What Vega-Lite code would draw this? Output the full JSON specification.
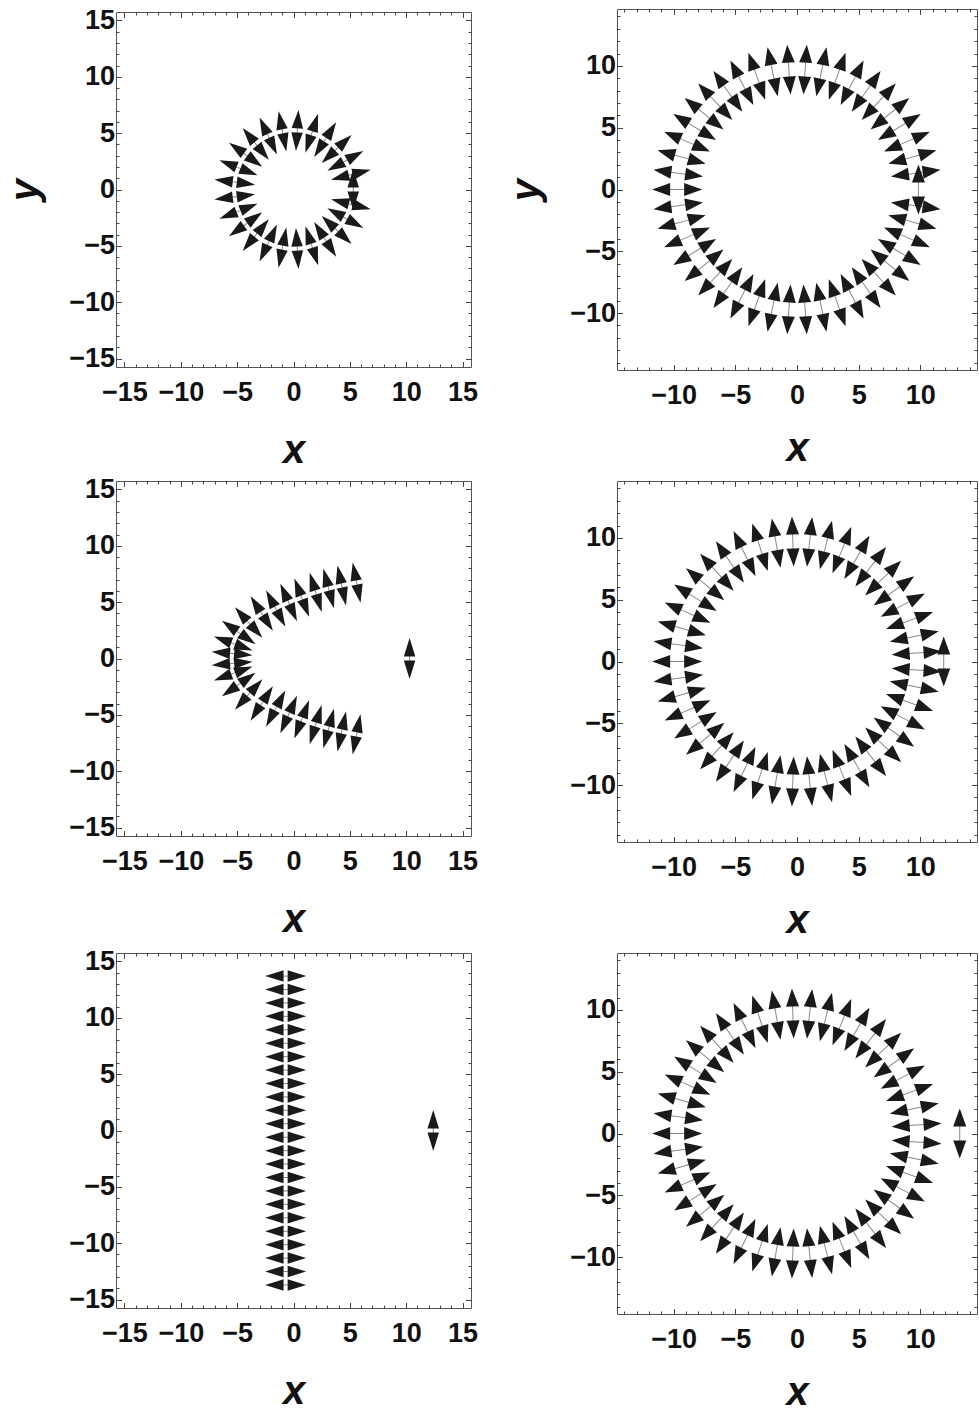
{
  "$schema": "https://vega.github.io/schema/vega-lite/v6.json",
  "padding": {"left": 5, "top": 1, "right": 0, "bottom": 0},
  "background": "white",
  "config": {
    "font": "Liberation Sans",
    "view": {"stroke": "#555", "strokeWidth": 1},
    "axis": {
      "domain": false,
      "grid": false,
      "tickColor": "#444",
      "tickWidth": 1,
      "labelFlush": false,
      "labelOverlap": false,
      "titleFont": "Liberation Sans",
      "titleFontSize": 40,
      "titleFontWeight": "bold",
      "titleFontStyle": "italic",
      "titleColor": "#111"
    }
  },
  "datasets": {
    "arrows": [
      {"p":1,"x":5.3,"y":0,"a":0},
      {"p":1,"x":5.09,"y":1.31,"a":75.6},{"p":1,"x":4.6,"y":2.53,"a":61.2},{"p":1,"x":3.83,"y":3.59,"a":46.8},{"p":1,"x":2.81,"y":4.43,"a":32.4},{"p":1,"x":1.62,"y":4.99,"a":18},{"p":1,"x":0.33,"y":5.24,"a":3.6},
      {"p":1,"x":-0.98,"y":5.16,"a":-10.8},{"p":1,"x":-2.24,"y":4.75,"a":-25.2},{"p":1,"x":-3.35,"y":4.05,"a":-39.6},{"p":1,"x":-4.25,"y":3.09,"a":-54},{"p":1,"x":-4.88,"y":1.93,"a":-68.4},{"p":1,"x":-5.21,"y":0.66,"a":-82.8},
      {"p":1,"x":-5.21,"y":-0.66,"a":82.8},{"p":1,"x":-4.88,"y":-1.93,"a":68.4},{"p":1,"x":-4.25,"y":-3.09,"a":54},{"p":1,"x":-3.35,"y":-4.05,"a":39.6},{"p":1,"x":-2.24,"y":-4.75,"a":25.2},{"p":1,"x":-0.98,"y":-5.16,"a":10.8},
      {"p":1,"x":0.33,"y":-5.24,"a":-3.6},{"p":1,"x":1.62,"y":-4.99,"a":-18},{"p":1,"x":2.81,"y":-4.43,"a":-32.4},{"p":1,"x":3.83,"y":-3.59,"a":-46.8},{"p":1,"x":4.6,"y":-2.53,"a":-61.2},{"p":1,"x":5.09,"y":-1.31,"a":-75.6},

      {"p":2,"x":9.85,"y":0,"a":0},
      {"p":2,"x":9.63,"y":1.32,"a":82.2},{"p":2,"x":9.36,"y":2.62,"a":74.3},{"p":2,"x":8.92,"y":3.87,"a":66.5},{"p":2,"x":8.3,"y":5.05,"a":58.7},{"p":2,"x":7.54,"y":6.13,"a":50.9},{"p":2,"x":6.63,"y":7.1,"a":43},
      {"p":2,"x":5.61,"y":7.94,"a":35.2},{"p":2,"x":4.47,"y":8.63,"a":27.4},{"p":2,"x":3.26,"y":9.16,"a":19.6},{"p":2,"x":1.98,"y":9.52,"a":11.7},{"p":2,"x":0.66,"y":9.7,"a":3.9},{"p":2,"x":-0.66,"y":9.7,"a":-3.9},
      {"p":2,"x":-1.98,"y":9.52,"a":-11.7},{"p":2,"x":-3.26,"y":9.16,"a":-19.6},{"p":2,"x":-4.47,"y":8.63,"a":-27.4},{"p":2,"x":-5.61,"y":7.94,"a":-35.2},{"p":2,"x":-6.63,"y":7.1,"a":-43},{"p":2,"x":-7.54,"y":6.13,"a":-50.9},
      {"p":2,"x":-8.3,"y":5.05,"a":-58.7},{"p":2,"x":-8.92,"y":3.87,"a":-66.5},{"p":2,"x":-9.36,"y":2.62,"a":-74.3},{"p":2,"x":-9.63,"y":1.32,"a":-82.2},{"p":2,"x":-9.72,"y":0,"a":90},
      {"p":2,"x":-9.63,"y":-1.32,"a":82.2},{"p":2,"x":-9.36,"y":-2.62,"a":74.3},{"p":2,"x":-8.92,"y":-3.87,"a":66.5},{"p":2,"x":-8.3,"y":-5.05,"a":58.7},{"p":2,"x":-7.54,"y":-6.13,"a":50.9},{"p":2,"x":-6.63,"y":-7.1,"a":43},
      {"p":2,"x":-5.61,"y":-7.94,"a":35.2},{"p":2,"x":-4.47,"y":-8.63,"a":27.4},{"p":2,"x":-3.26,"y":-9.16,"a":19.6},{"p":2,"x":-1.98,"y":-9.52,"a":11.7},{"p":2,"x":-0.66,"y":-9.7,"a":3.9},{"p":2,"x":0.66,"y":-9.7,"a":-3.9},
      {"p":2,"x":1.98,"y":-9.52,"a":-11.7},{"p":2,"x":3.26,"y":-9.16,"a":-19.6},{"p":2,"x":4.47,"y":-8.63,"a":-27.4},{"p":2,"x":5.61,"y":-7.94,"a":-35.2},{"p":2,"x":6.63,"y":-7.1,"a":-43},{"p":2,"x":7.54,"y":-6.13,"a":-50.9},
      {"p":2,"x":8.3,"y":-5.05,"a":-58.7},{"p":2,"x":8.92,"y":-3.87,"a":-66.5},{"p":2,"x":9.36,"y":-2.62,"a":-74.3},{"p":2,"x":9.63,"y":-1.32,"a":-82.2},

      {"p":3,"x":10.3,"y":0,"a":0},
      {"p":3,"x":5.6,"y":6.74,"a":-11},{"p":3,"x":4.28,"y":6.48,"a":-12},{"p":3,"x":3.12,"y":6.21,"a":-15},{"p":3,"x":1.97,"y":5.86,"a":-17},{"p":3,"x":0.73,"y":5.41,"a":-21},{"p":3,"x":-0.43,"y":4.97,"a":-24},
      {"p":3,"x":-1.58,"y":4.44,"a":-28},{"p":3,"x":-2.82,"y":3.99,"a":-33},{"p":3,"x":-3.98,"y":3.19,"a":-42},{"p":3,"x":-4.86,"y":2.31,"a":-55},{"p":3,"x":-5.35,"y":1.33,"a":-70},{"p":3,"x":-5.45,"y":0.45,"a":-85},
      {"p":3,"x":5.6,"y":-6.74,"a":11},{"p":3,"x":4.28,"y":-6.48,"a":12},{"p":3,"x":3.12,"y":-6.21,"a":15},{"p":3,"x":1.97,"y":-5.86,"a":17},{"p":3,"x":0.73,"y":-5.41,"a":21},{"p":3,"x":-0.43,"y":-4.97,"a":24},
      {"p":3,"x":-1.58,"y":-4.44,"a":28},{"p":3,"x":-2.82,"y":-3.99,"a":33},{"p":3,"x":-3.98,"y":-3.19,"a":42},{"p":3,"x":-4.86,"y":-2.31,"a":55},{"p":3,"x":-5.35,"y":-1.33,"a":70},{"p":3,"x":-5.45,"y":-0.45,"a":85},

      {"p":4,"x":11.9,"y":0,"a":0},
      {"p":4,"x":9.7,"y":0.68,"a":86},{"p":4,"x":9.51,"y":2.02,"a":78},{"p":4,"x":9.13,"y":3.32,"a":70},{"p":4,"x":8.58,"y":4.56,"a":62},{"p":4,"x":7.86,"y":5.71,"a":54},{"p":4,"x":6.99,"y":6.75,"a":46},
      {"p":4,"x":5.98,"y":7.66,"a":38},{"p":4,"x":4.86,"y":8.42,"a":30},{"p":4,"x":3.64,"y":9.01,"a":22},{"p":4,"x":2.35,"y":9.43,"a":14},{"p":4,"x":1.02,"y":9.67,"a":6},{"p":4,"x":-0.34,"y":9.71,"a":-2},
      {"p":4,"x":-1.69,"y":9.57,"a":-10},{"p":4,"x":-3,"y":9.24,"a":-18},{"p":4,"x":-4.26,"y":8.74,"a":-26},{"p":4,"x":-5.44,"y":8.06,"a":-34},{"p":4,"x":-6.5,"y":7.22,"a":-42},{"p":4,"x":-7.45,"y":6.25,"a":-50},
      {"p":4,"x":-8.24,"y":5.15,"a":-58},{"p":4,"x":-8.88,"y":3.95,"a":-66},{"p":4,"x":-9.34,"y":2.68,"a":-74},{"p":4,"x":-9.63,"y":1.35,"a":-82},{"p":4,"x":-9.72,"y":0,"a":90},
      {"p":4,"x":-9.63,"y":-1.35,"a":82},{"p":4,"x":-9.34,"y":-2.68,"a":74},{"p":4,"x":-8.88,"y":-3.95,"a":66},{"p":4,"x":-8.24,"y":-5.15,"a":58},{"p":4,"x":-7.45,"y":-6.25,"a":50},{"p":4,"x":-6.5,"y":-7.22,"a":42},
      {"p":4,"x":-5.44,"y":-8.06,"a":34},{"p":4,"x":-4.26,"y":-8.74,"a":26},{"p":4,"x":-3,"y":-9.24,"a":18},{"p":4,"x":-1.69,"y":-9.57,"a":10},{"p":4,"x":-0.34,"y":-9.71,"a":2},{"p":4,"x":1.02,"y":-9.67,"a":-6},
      {"p":4,"x":2.35,"y":-9.43,"a":-14},{"p":4,"x":3.64,"y":-9.01,"a":-22},{"p":4,"x":4.86,"y":-8.42,"a":-30},{"p":4,"x":5.98,"y":-7.66,"a":-38},{"p":4,"x":6.99,"y":-6.75,"a":-46},{"p":4,"x":7.86,"y":-5.71,"a":-54},
      {"p":4,"x":8.58,"y":-4.56,"a":-62},{"p":4,"x":9.13,"y":-3.32,"a":-70},{"p":4,"x":9.51,"y":-2.02,"a":-78},{"p":4,"x":9.7,"y":-0.68,"a":-86},

      {"p":5,"x":12.4,"y":0,"a":0},
      {"p":5,"x":-0.7,"y":13.7,"a":90},{"p":5,"x":-0.7,"y":12.51,"a":90},{"p":5,"x":-0.7,"y":11.32,"a":90},{"p":5,"x":-0.7,"y":10.13,"a":90},{"p":5,"x":-0.7,"y":8.94,"a":90},{"p":5,"x":-0.7,"y":7.74,"a":90},
      {"p":5,"x":-0.7,"y":6.55,"a":90},{"p":5,"x":-0.7,"y":5.36,"a":90},{"p":5,"x":-0.7,"y":4.17,"a":90},{"p":5,"x":-0.7,"y":2.98,"a":90},{"p":5,"x":-0.7,"y":1.79,"a":90},{"p":5,"x":-0.7,"y":0.6,"a":90},
      {"p":5,"x":-0.7,"y":-0.6,"a":90},{"p":5,"x":-0.7,"y":-1.79,"a":90},{"p":5,"x":-0.7,"y":-2.98,"a":90},{"p":5,"x":-0.7,"y":-4.17,"a":90},{"p":5,"x":-0.7,"y":-5.36,"a":90},{"p":5,"x":-0.7,"y":-6.55,"a":90},
      {"p":5,"x":-0.7,"y":-7.74,"a":90},{"p":5,"x":-0.7,"y":-8.94,"a":90},{"p":5,"x":-0.7,"y":-10.13,"a":90},{"p":5,"x":-0.7,"y":-11.32,"a":90},{"p":5,"x":-0.7,"y":-12.51,"a":90},{"p":5,"x":-0.7,"y":-13.7,"a":90},

      {"p":6,"x":13.2,"y":0,"a":0},
      {"p":6,"x":9.7,"y":0.68,"a":86},{"p":6,"x":9.51,"y":2.02,"a":78},{"p":6,"x":9.13,"y":3.32,"a":70},{"p":6,"x":8.58,"y":4.56,"a":62},{"p":6,"x":7.86,"y":5.71,"a":54},{"p":6,"x":6.99,"y":6.75,"a":46},
      {"p":6,"x":5.98,"y":7.66,"a":38},{"p":6,"x":4.86,"y":8.42,"a":30},{"p":6,"x":3.64,"y":9.01,"a":22},{"p":6,"x":2.35,"y":9.43,"a":14},{"p":6,"x":1.02,"y":9.67,"a":6},{"p":6,"x":-0.34,"y":9.71,"a":-2},
      {"p":6,"x":-1.69,"y":9.57,"a":-10},{"p":6,"x":-3,"y":9.24,"a":-18},{"p":6,"x":-4.26,"y":8.74,"a":-26},{"p":6,"x":-5.44,"y":8.06,"a":-34},{"p":6,"x":-6.5,"y":7.22,"a":-42},{"p":6,"x":-7.45,"y":6.25,"a":-50},
      {"p":6,"x":-8.24,"y":5.15,"a":-58},{"p":6,"x":-8.88,"y":3.95,"a":-66},{"p":6,"x":-9.34,"y":2.68,"a":-74},{"p":6,"x":-9.63,"y":1.35,"a":-82},{"p":6,"x":-9.72,"y":0,"a":90},
      {"p":6,"x":-9.63,"y":-1.35,"a":82},{"p":6,"x":-9.34,"y":-2.68,"a":74},{"p":6,"x":-8.88,"y":-3.95,"a":66},{"p":6,"x":-8.24,"y":-5.15,"a":58},{"p":6,"x":-7.45,"y":-6.25,"a":50},{"p":6,"x":-6.5,"y":-7.22,"a":42},
      {"p":6,"x":-5.44,"y":-8.06,"a":34},{"p":6,"x":-4.26,"y":-8.74,"a":26},{"p":6,"x":-3,"y":-9.24,"a":18},{"p":6,"x":-1.69,"y":-9.57,"a":10},{"p":6,"x":-0.34,"y":-9.71,"a":2},{"p":6,"x":1.02,"y":-9.67,"a":-6},
      {"p":6,"x":2.35,"y":-9.43,"a":-14},{"p":6,"x":3.64,"y":-9.01,"a":-22},{"p":6,"x":4.86,"y":-8.42,"a":-30},{"p":6,"x":5.98,"y":-7.66,"a":-38},{"p":6,"x":6.99,"y":-6.75,"a":-46},{"p":6,"x":7.86,"y":-5.71,"a":-54},
      {"p":6,"x":8.58,"y":-4.56,"a":-62},{"p":6,"x":9.13,"y":-3.32,"a":-70},{"p":6,"x":9.51,"y":-2.02,"a":-78},{"p":6,"x":9.7,"y":-0.68,"a":-86}
    ]
  },
  "columns": 2,
  "bounds": "flush",
  "center": true,
  "spacing": {"row": 111, "column": 146},
  "concat": [
    {
      "width": 355, "height": 355,
      "data": {"name": "arrows"},
      "transform": [{"filter": "datum.p === 1"}],
      "layer": [
        {
          "mark": {"type": "point", "shape": "M0,-0.12L0,0.12", "size": 1681, "filled": false, "stroke": "#888", "strokeWidth": 1, "opacity": 1},
          "encoding": {
            "x": {"field": "x", "type": "quantitative", "scale": {"domain": [-15.75, 15.75], "nice": false, "zero": false},
                  "axis": {"orient": "top", "values": [-15,-14,-13,-12,-11,-10,-9,-8,-7,-6,-5,-4,-3,-2,-1,0,1,2,3,4,5,6,7,8,9,10,11,12,13,14,15], "labels": false, "title": null,
                           "tickSize": {"condition": {"test": "datum.value % 5 === 0", "value": -5.5}, "value": -3}}},
            "y": {"field": "y", "type": "quantitative", "scale": {"domain": [-15.75, 15.75], "nice": false, "zero": false},
                  "axis": {"orient": "right", "values": [-15,-14,-13,-12,-11,-10,-9,-8,-7,-6,-5,-4,-3,-2,-1,0,1,2,3,4,5,6,7,8,9,10,11,12,13,14,15], "labels": false, "title": null,
                           "tickSize": {"condition": {"test": "datum.value % 5 === 0", "value": -5.5}, "value": -3}}},
            "angle": {"field": "a", "type": "quantitative", "scale": null}
          }
        },
        {
          "mark": {"type": "point", "shape": "M0,-1L0.28,-0.1L-0.28,-0.1ZM0,1L0.28,0.1L-0.28,0.1Z", "size": 1681, "filled": true, "fill": "#1a1a1a", "strokeWidth": 0, "opacity": 1},
          "encoding": {
            "x": {"field": "x", "type": "quantitative", "scale": {"domain": [-15.75, 15.75], "nice": false, "zero": false},
                  "axis": {"orient": "bottom", "values": [-15,-14,-13,-12,-11,-10,-9,-8,-7,-6,-5,-4,-3,-2,-1,0,1,2,3,4,5,6,7,8,9,10,11,12,13,14,15], "labelExpr": "datum.value % 5 === 0 ? datum.label : ''",
                           "labelFont": "Liberation Sans", "labelFontSize": 27, "labelFontWeight": "bold", "labelColor": "#111",
                           "labelPadding": 18, "title": "x", "titlePadding": 22,
                           "tickSize": {"condition": {"test": "datum.value % 5 === 0", "value": -5.5}, "value": -3}}},
            "y": {"field": "y", "type": "quantitative", "scale": {"domain": [-15.75, 15.75], "nice": false, "zero": false},
                  "axis": {"orient": "left", "values": [-15,-14,-13,-12,-11,-10,-9,-8,-7,-6,-5,-4,-3,-2,-1,0,1,2,3,4,5,6,7,8,9,10,11,12,13,14,15], "labelExpr": "datum.value % 5 === 0 ? datum.label : ''",
                           "labelFont": "Liberation Sans", "labelFontSize": 27, "labelFontWeight": "bold", "labelColor": "#111",
                           "labelPadding": 7, "title": "y", "titlePadding": 23,
                           "tickSize": {"condition": {"test": "datum.value % 5 === 0", "value": -5.5}, "value": -3}}},
            "angle": {"field": "a", "type": "quantitative", "scale": null}
          }
        }
      ],
      "resolve": {"axis": {"x": "independent", "y": "independent"}}
    },
    {
      "width": 360, "height": 361,
      "data": {"name": "arrows"},
      "transform": [{"filter": "datum.p === 2"}],
      "layer": [
        {
          "mark": {"type": "point", "shape": "M0,-0.3L0,0.3", "size": 2500, "filled": false, "stroke": "#888", "strokeWidth": 1, "opacity": 1},
          "encoding": {
            "x": {"field": "x", "type": "quantitative", "scale": {"domain": [-14.6, 14.6], "nice": false, "zero": false},
                  "axis": {"orient": "top", "values": [-14,-13,-12,-11,-10,-9,-8,-7,-6,-5,-4,-3,-2,-1,0,1,2,3,4,5,6,7,8,9,10,11,12,13,14], "labels": false, "title": null,
                           "tickSize": {"condition": {"test": "datum.value % 5 === 0", "value": -5.5}, "value": -3}}},
            "y": {"field": "y", "type": "quantitative", "scale": {"domain": [-14.6, 14.6], "nice": false, "zero": false},
                  "axis": {"orient": "right", "values": [-14,-13,-12,-11,-10,-9,-8,-7,-6,-5,-4,-3,-2,-1,0,1,2,3,4,5,6,7,8,9,10,11,12,13,14], "labels": false, "title": null,
                           "tickSize": {"condition": {"test": "datum.value % 5 === 0", "value": -5.5}, "value": -3}}},
            "angle": {"field": "a", "type": "quantitative", "scale": null}
          }
        },
        {
          "mark": {"type": "point", "shape": "M0,-1L0.26,-0.28L-0.26,-0.28ZM0,1L0.26,0.28L-0.26,0.28Z", "size": 2500, "filled": true, "fill": "#1a1a1a", "strokeWidth": 0, "opacity": 1},
          "encoding": {
            "x": {"field": "x", "type": "quantitative", "scale": {"domain": [-14.6, 14.6], "nice": false, "zero": false},
                  "axis": {"orient": "bottom", "values": [-14,-13,-12,-11,-10,-9,-8,-7,-6,-5,-4,-3,-2,-1,0,1,2,3,4,5,6,7,8,9,10,11,12,13,14], "labelExpr": "datum.value % 5 === 0 ? datum.label : ''",
                           "labelFont": "Liberation Sans", "labelFontSize": 27, "labelFontWeight": "bold", "labelColor": "#111",
                           "labelPadding": 18, "title": "x", "titlePadding": 17,
                           "tickSize": {"condition": {"test": "datum.value % 5 === 0", "value": -5.5}, "value": -3}}},
            "y": {"field": "y", "type": "quantitative", "scale": {"domain": [-14.6, 14.6], "nice": false, "zero": false},
                  "axis": {"orient": "left", "values": [-14,-13,-12,-11,-10,-9,-8,-7,-6,-5,-4,-3,-2,-1,0,1,2,3,4,5,6,7,8,9,10,11,12,13,14], "labelExpr": "datum.value % 5 === 0 ? datum.label : ''",
                           "labelFont": "Liberation Sans", "labelFontSize": 27, "labelFontWeight": "bold", "labelColor": "#111",
                           "labelPadding": 7, "title": "y", "titlePadding": 23,
                           "tickSize": {"condition": {"test": "datum.value % 5 === 0", "value": -5.5}, "value": -3}}},
            "angle": {"field": "a", "type": "quantitative", "scale": null}
          }
        }
      ],
      "resolve": {"axis": {"x": "independent", "y": "independent"}}
    },
    {
      "width": 355, "height": 355,
      "data": {"name": "arrows"},
      "transform": [{"filter": "datum.p === 3"}],
      "layer": [
        {
          "mark": {"type": "point", "shape": "M0,-0.12L0,0.12", "size": 1681, "filled": false, "stroke": "#888", "strokeWidth": 1, "opacity": 1},
          "encoding": {
            "x": {"field": "x", "type": "quantitative", "scale": {"domain": [-15.75, 15.75], "nice": false, "zero": false},
                  "axis": {"orient": "top", "values": [-15,-14,-13,-12,-11,-10,-9,-8,-7,-6,-5,-4,-3,-2,-1,0,1,2,3,4,5,6,7,8,9,10,11,12,13,14,15], "labels": false, "title": null,
                           "tickSize": {"condition": {"test": "datum.value % 5 === 0", "value": -5.5}, "value": -3}}},
            "y": {"field": "y", "type": "quantitative", "scale": {"domain": [-15.75, 15.75], "nice": false, "zero": false},
                  "axis": {"orient": "right", "values": [-15,-14,-13,-12,-11,-10,-9,-8,-7,-6,-5,-4,-3,-2,-1,0,1,2,3,4,5,6,7,8,9,10,11,12,13,14,15], "labels": false, "title": null,
                           "tickSize": {"condition": {"test": "datum.value % 5 === 0", "value": -5.5}, "value": -3}}},
            "angle": {"field": "a", "type": "quantitative", "scale": null}
          }
        },
        {
          "mark": {"type": "point", "shape": "M0,-1L0.28,-0.1L-0.28,-0.1ZM0,1L0.28,0.1L-0.28,0.1Z", "size": 1681, "filled": true, "fill": "#1a1a1a", "strokeWidth": 0, "opacity": 1},
          "encoding": {
            "x": {"field": "x", "type": "quantitative", "scale": {"domain": [-15.75, 15.75], "nice": false, "zero": false},
                  "axis": {"orient": "bottom", "values": [-15,-14,-13,-12,-11,-10,-9,-8,-7,-6,-5,-4,-3,-2,-1,0,1,2,3,4,5,6,7,8,9,10,11,12,13,14,15], "labelExpr": "datum.value % 5 === 0 ? datum.label : ''",
                           "labelFont": "Liberation Sans", "labelFontSize": 27, "labelFontWeight": "bold", "labelColor": "#111",
                           "labelPadding": 18, "title": "x", "titlePadding": 22,
                           "tickSize": {"condition": {"test": "datum.value % 5 === 0", "value": -5.5}, "value": -3}}},
            "y": {"field": "y", "type": "quantitative", "scale": {"domain": [-15.75, 15.75], "nice": false, "zero": false},
                  "axis": {"orient": "left", "values": [-15,-14,-13,-12,-11,-10,-9,-8,-7,-6,-5,-4,-3,-2,-1,0,1,2,3,4,5,6,7,8,9,10,11,12,13,14,15], "labelExpr": "datum.value % 5 === 0 ? datum.label : ''",
                           "labelFont": "Liberation Sans", "labelFontSize": 27, "labelFontWeight": "bold", "labelColor": "#111",
                           "labelPadding": 7, "title": null,
                           "tickSize": {"condition": {"test": "datum.value % 5 === 0", "value": -5.5}, "value": -3}}},
            "angle": {"field": "a", "type": "quantitative", "scale": null}
          }
        }
      ],
      "resolve": {"axis": {"x": "independent", "y": "independent"}}
    },
    {
      "width": 360, "height": 361,
      "data": {"name": "arrows"},
      "transform": [{"filter": "datum.p === 4"}],
      "layer": [
        {
          "mark": {"type": "point", "shape": "M0,-0.3L0,0.3", "size": 2500, "filled": false, "stroke": "#888", "strokeWidth": 1, "opacity": 1},
          "encoding": {
            "x": {"field": "x", "type": "quantitative", "scale": {"domain": [-14.6, 14.6], "nice": false, "zero": false},
                  "axis": {"orient": "top", "values": [-14,-13,-12,-11,-10,-9,-8,-7,-6,-5,-4,-3,-2,-1,0,1,2,3,4,5,6,7,8,9,10,11,12,13,14], "labels": false, "title": null,
                           "tickSize": {"condition": {"test": "datum.value % 5 === 0", "value": -5.5}, "value": -3}}},
            "y": {"field": "y", "type": "quantitative", "scale": {"domain": [-14.6, 14.6], "nice": false, "zero": false},
                  "axis": {"orient": "right", "values": [-14,-13,-12,-11,-10,-9,-8,-7,-6,-5,-4,-3,-2,-1,0,1,2,3,4,5,6,7,8,9,10,11,12,13,14], "labels": false, "title": null,
                           "tickSize": {"condition": {"test": "datum.value % 5 === 0", "value": -5.5}, "value": -3}}},
            "angle": {"field": "a", "type": "quantitative", "scale": null}
          }
        },
        {
          "mark": {"type": "point", "shape": "M0,-1L0.26,-0.28L-0.26,-0.28ZM0,1L0.26,0.28L-0.26,0.28Z", "size": 2500, "filled": true, "fill": "#1a1a1a", "strokeWidth": 0, "opacity": 1},
          "encoding": {
            "x": {"field": "x", "type": "quantitative", "scale": {"domain": [-14.6, 14.6], "nice": false, "zero": false},
                  "axis": {"orient": "bottom", "values": [-14,-13,-12,-11,-10,-9,-8,-7,-6,-5,-4,-3,-2,-1,0,1,2,3,4,5,6,7,8,9,10,11,12,13,14], "labelExpr": "datum.value % 5 === 0 ? datum.label : ''",
                           "labelFont": "Liberation Sans", "labelFontSize": 27, "labelFontWeight": "bold", "labelColor": "#111",
                           "labelPadding": 18, "title": "x", "titlePadding": 17,
                           "tickSize": {"condition": {"test": "datum.value % 5 === 0", "value": -5.5}, "value": -3}}},
            "y": {"field": "y", "type": "quantitative", "scale": {"domain": [-14.6, 14.6], "nice": false, "zero": false},
                  "axis": {"orient": "left", "values": [-14,-13,-12,-11,-10,-9,-8,-7,-6,-5,-4,-3,-2,-1,0,1,2,3,4,5,6,7,8,9,10,11,12,13,14], "labelExpr": "datum.value % 5 === 0 ? datum.label : ''",
                           "labelFont": "Liberation Sans", "labelFontSize": 27, "labelFontWeight": "bold", "labelColor": "#111",
                           "labelPadding": 7, "title": null,
                           "tickSize": {"condition": {"test": "datum.value % 5 === 0", "value": -5.5}, "value": -3}}},
            "angle": {"field": "a", "type": "quantitative", "scale": null}
          }
        }
      ],
      "resolve": {"axis": {"x": "independent", "y": "independent"}}
    },
    {
      "width": 355, "height": 355,
      "data": {"name": "arrows"},
      "transform": [{"filter": "datum.p === 5"}],
      "layer": [
        {
          "mark": {"type": "point", "shape": "M0,-0.12L0,0.12", "size": 1681, "filled": false, "stroke": "#888", "strokeWidth": 1, "opacity": 1},
          "encoding": {
            "x": {"field": "x", "type": "quantitative", "scale": {"domain": [-15.75, 15.75], "nice": false, "zero": false},
                  "axis": {"orient": "top", "values": [-15,-14,-13,-12,-11,-10,-9,-8,-7,-6,-5,-4,-3,-2,-1,0,1,2,3,4,5,6,7,8,9,10,11,12,13,14,15], "labels": false, "title": null,
                           "tickSize": {"condition": {"test": "datum.value % 5 === 0", "value": -5.5}, "value": -3}}},
            "y": {"field": "y", "type": "quantitative", "scale": {"domain": [-15.75, 15.75], "nice": false, "zero": false},
                  "axis": {"orient": "right", "values": [-15,-14,-13,-12,-11,-10,-9,-8,-7,-6,-5,-4,-3,-2,-1,0,1,2,3,4,5,6,7,8,9,10,11,12,13,14,15], "labels": false, "title": null,
                           "tickSize": {"condition": {"test": "datum.value % 5 === 0", "value": -5.5}, "value": -3}}},
            "angle": {"field": "a", "type": "quantitative", "scale": null}
          }
        },
        {
          "mark": {"type": "point", "shape": "M0,-1L0.28,-0.1L-0.28,-0.1ZM0,1L0.28,0.1L-0.28,0.1Z", "size": 1681, "filled": true, "fill": "#1a1a1a", "strokeWidth": 0, "opacity": 1},
          "encoding": {
            "x": {"field": "x", "type": "quantitative", "scale": {"domain": [-15.75, 15.75], "nice": false, "zero": false},
                  "axis": {"orient": "bottom", "values": [-15,-14,-13,-12,-11,-10,-9,-8,-7,-6,-5,-4,-3,-2,-1,0,1,2,3,4,5,6,7,8,9,10,11,12,13,14,15], "labelExpr": "datum.value % 5 === 0 ? datum.label : ''",
                           "labelFont": "Liberation Sans", "labelFontSize": 27, "labelFontWeight": "bold", "labelColor": "#111",
                           "labelPadding": 18, "title": "x", "titlePadding": 22,
                           "tickSize": {"condition": {"test": "datum.value % 5 === 0", "value": -5.5}, "value": -3}}},
            "y": {"field": "y", "type": "quantitative", "scale": {"domain": [-15.75, 15.75], "nice": false, "zero": false},
                  "axis": {"orient": "left", "values": [-15,-14,-13,-12,-11,-10,-9,-8,-7,-6,-5,-4,-3,-2,-1,0,1,2,3,4,5,6,7,8,9,10,11,12,13,14,15], "labelExpr": "datum.value % 5 === 0 ? datum.label : ''",
                           "labelFont": "Liberation Sans", "labelFontSize": 27, "labelFontWeight": "bold", "labelColor": "#111",
                           "labelPadding": 7, "title": null,
                           "tickSize": {"condition": {"test": "datum.value % 5 === 0", "value": -5.5}, "value": -3}}},
            "angle": {"field": "a", "type": "quantitative", "scale": null}
          }
        }
      ],
      "resolve": {"axis": {"x": "independent", "y": "independent"}}
    },
    {
      "width": 360, "height": 361,
      "data": {"name": "arrows"},
      "transform": [{"filter": "datum.p === 6"}],
      "layer": [
        {
          "mark": {"type": "point", "shape": "M0,-0.3L0,0.3", "size": 2500, "filled": false, "stroke": "#888", "strokeWidth": 1, "opacity": 1},
          "encoding": {
            "x": {"field": "x", "type": "quantitative", "scale": {"domain": [-14.6, 14.6], "nice": false, "zero": false},
                  "axis": {"orient": "top", "values": [-14,-13,-12,-11,-10,-9,-8,-7,-6,-5,-4,-3,-2,-1,0,1,2,3,4,5,6,7,8,9,10,11,12,13,14], "labels": false, "title": null,
                           "tickSize": {"condition": {"test": "datum.value % 5 === 0", "value": -5.5}, "value": -3}}},
            "y": {"field": "y", "type": "quantitative", "scale": {"domain": [-14.6, 14.6], "nice": false, "zero": false},
                  "axis": {"orient": "right", "values": [-14,-13,-12,-11,-10,-9,-8,-7,-6,-5,-4,-3,-2,-1,0,1,2,3,4,5,6,7,8,9,10,11,12,13,14], "labels": false, "title": null,
                           "tickSize": {"condition": {"test": "datum.value % 5 === 0", "value": -5.5}, "value": -3}}},
            "angle": {"field": "a", "type": "quantitative", "scale": null}
          }
        },
        {
          "mark": {"type": "point", "shape": "M0,-1L0.26,-0.28L-0.26,-0.28ZM0,1L0.26,0.28L-0.26,0.28Z", "size": 2500, "filled": true, "fill": "#1a1a1a", "strokeWidth": 0, "opacity": 1},
          "encoding": {
            "x": {"field": "x", "type": "quantitative", "scale": {"domain": [-14.6, 14.6], "nice": false, "zero": false},
                  "axis": {"orient": "bottom", "values": [-14,-13,-12,-11,-10,-9,-8,-7,-6,-5,-4,-3,-2,-1,0,1,2,3,4,5,6,7,8,9,10,11,12,13,14], "labelExpr": "datum.value % 5 === 0 ? datum.label : ''",
                           "labelFont": "Liberation Sans", "labelFontSize": 27, "labelFontWeight": "bold", "labelColor": "#111",
                           "labelPadding": 18, "title": "x", "titlePadding": 17,
                           "tickSize": {"condition": {"test": "datum.value % 5 === 0", "value": -5.5}, "value": -3}}},
            "y": {"field": "y", "type": "quantitative", "scale": {"domain": [-14.6, 14.6], "nice": false, "zero": false},
                  "axis": {"orient": "left", "values": [-14,-13,-12,-11,-10,-9,-8,-7,-6,-5,-4,-3,-2,-1,0,1,2,3,4,5,6,7,8,9,10,11,12,13,14], "labelExpr": "datum.value % 5 === 0 ? datum.label : ''",
                           "labelFont": "Liberation Sans", "labelFontSize": 27, "labelFontWeight": "bold", "labelColor": "#111",
                           "labelPadding": 7, "title": null,
                           "tickSize": {"condition": {"test": "datum.value % 5 === 0", "value": -5.5}, "value": -3}}},
            "angle": {"field": "a", "type": "quantitative", "scale": null}
          }
        }
      ],
      "resolve": {"axis": {"x": "independent", "y": "independent"}}
    }
  ]
}
